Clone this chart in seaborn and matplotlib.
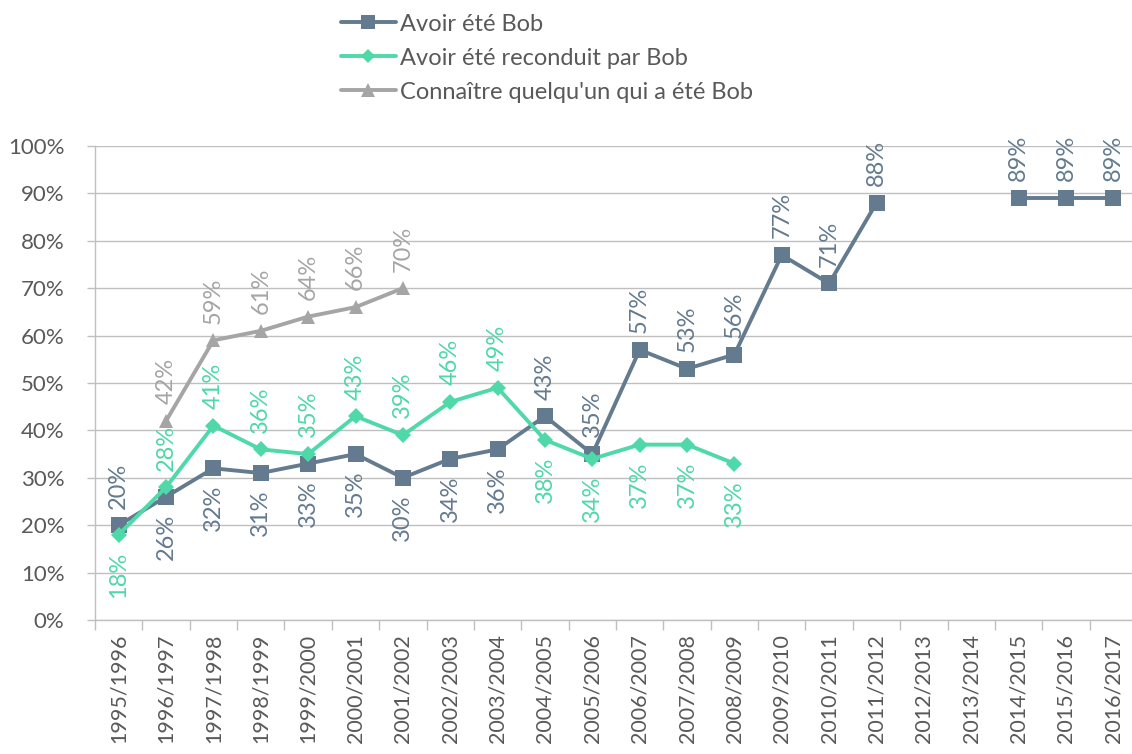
import numpy as np
import pandas as pd
import seaborn as sns
import matplotlib.pyplot as plt
from matplotlib.lines import Line2D
from matplotlib.ticker import FuncFormatter

years = ['1995/1996', '1996/1997', '1997/1998', '1998/1999', '1999/2000',
         '2000/2001', '2001/2002', '2002/2003', '2003/2004', '2004/2005',
         '2005/2006', '2006/2007', '2007/2008', '2008/2009', '2009/2010',
         '2010/2011', '2011/2012', '2012/2013', '2013/2014', '2014/2015',
         '2015/2016', '2016/2017']
nan = np.nan
bob = [20, 26, 32, 31, 33, 35, 30, 34, 36, 43, 35, 57, 53, 56, 77, 71, 88,
       nan, nan, 89, 89, 89]
reconduit = [18, 28, 41, 36, 35, 43, 39, 46, 49, 38, 34, 37, 37, 33,
             nan, nan, nan, nan, nan, nan, nan, nan]
connaitre = [nan, 42, 59, 61, 64, 66, 70, nan, nan, nan, nan, nan, nan, nan,
             nan, nan, nan, nan, nan, nan, nan, nan]
# label above (+1) or below (-1) the point
bob_pos = [1, -1, -1, -1, -1, -1, -1, -1, -1, 1, 1, 1, 1, 1, 1, 1, 1,
           1, 1, 1, 1, 1]
rec_pos = [-1, 1, 1, 1, 1, 1, 1, 1, 1, -1, -1, -1, -1, -1,
           1, 1, 1, 1, 1, 1, 1, 1]
con_pos = [1] * 22

names = ['Avoir été Bob', 'Avoir été reconduit par Bob',
         'Connaître quelqu\'un qui a été Bob']
colors = ['#637a8f', '#4fd8a8', '#a5a5a5']
markers = ['s', 'D', '^']
msizes = [11, 8, 10]

rows = []
for name, vals in zip(names, [bob, reconduit, connaitre]):
    seg = 0
    for i, v in enumerate(vals):
        if np.isnan(v):
            seg += 1
            continue
        rows.append({'x': i, 'value': v, 'series': name, 'seg': seg})
df = pd.DataFrame(rows)

sns.set_style('white')
plt.rcParams['font.family'] = ['Lato', 'DejaVu Sans']

fig = plt.figure(figsize=(11.32, 7.54), dpi=100)
ax = fig.add_axes([95 / 1132, 134 / 754, 1042 / 1132, 474 / 754])

for name, col, mk, ms in zip(names, colors, markers, msizes):
    sub = df[df['series'] == name]
    sns.lineplot(data=sub, x='x', y='value', units='seg', estimator=None,
                 color=col, marker=mk, markersize=ms, markeredgewidth=0,
                 linewidth=2.8, ax=ax, legend=False)

for vals, pos, col in zip([bob, reconduit, connaitre],
                          [bob_pos, rec_pos, con_pos], colors):
    for i, v in enumerate(vals):
        if np.isnan(v):
            continue
        p = pos[i]
        ax.annotate('{:d}%'.format(int(v)), (i, v), xytext=(0, 12 * p),
                    textcoords='offset points', rotation=90, ha='center',
                    va='bottom' if p > 0 else 'top', fontsize=17, color=col)

ax.set_xlim(-0.5, 21.5)
ax.set_ylim(0, 100)
ax.set_yticks(range(0, 101, 10))
ax.yaxis.set_major_formatter(FuncFormatter(lambda v, p: '{:d}%'.format(int(v))))
ax.set_xticks(range(len(years)))
ax.set_xticklabels(years, rotation=90)
ax.set_xticks(np.arange(-0.5, 22, 1), minor=True)
ax.tick_params(axis='x', which='major', length=0, pad=10, labelsize=15.5,
               labelcolor='#595959')
ax.tick_params(axis='x', which='minor', length=7, color='#bfbfbf', width=1,
               direction='out', bottom=True)
ax.tick_params(axis='y', length=6, color='#bfbfbf', width=1, direction='out',
               left=True, labelsize=16, labelcolor='#595959', pad=16)
ax.set_xlabel('')
ax.set_ylabel('')
ax.grid(axis='y', color='#bfbfbf', linewidth=1)
for s in ['top', 'right']:
    ax.spines[s].set_visible(False)
for s in ['left', 'bottom']:
    ax.spines[s].set_color('#bfbfbf')
    ax.spines[s].set_linewidth(1)

handles = [Line2D([0], [0], color=c, marker=m, markersize=ms * 0.95,
                  markeredgewidth=0, linewidth=2.8)
           for c, m, ms in zip(colors, markers, msizes)]
leg = fig.legend(handles, names, loc='upper left',
                 bbox_to_anchor=(320 / 1132, 1.01), frameon=False,
                 fontsize=17, handlelength=2.3, handletextpad=0.2,
                 labelspacing=0.55)
for t in leg.get_texts():
    t.set_color('#595959')

fig.savefig('out.png', dpi=100)
